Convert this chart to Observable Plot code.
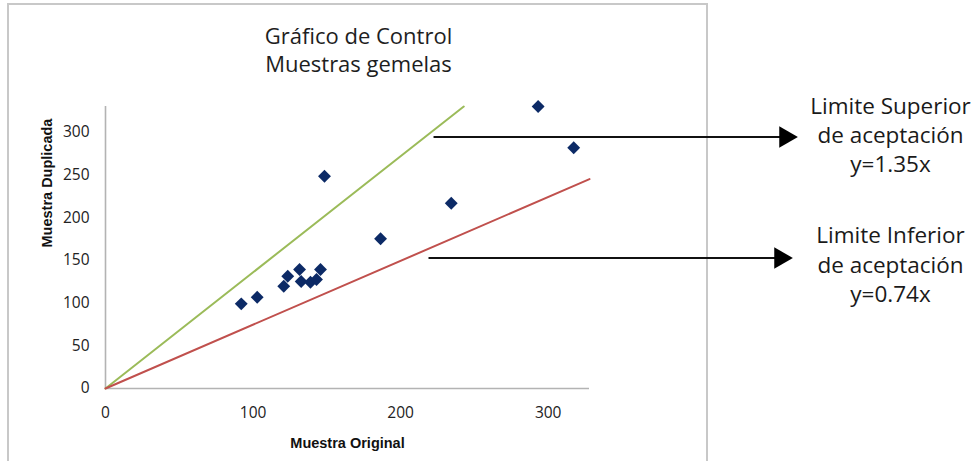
<!DOCTYPE html>
<html>
<head>
<meta charset="utf-8">
<script src="https://cdn.jsdelivr.net/npm/d3@7"></script>
<script src="https://cdn.jsdelivr.net/npm/@observablehq/plot@0.6"></script>
<style>
  html, body { margin: 0; padding: 0; background: #fff; overflow: hidden; }
  #wrap { position: relative; width: 974px; height: 461px; }
  #frame { position: absolute; left: 7px; top: 3px; width: 701px; height: 480px; border: 2px solid #c8c8c8; box-sizing: border-box; }
  #chart { position: absolute; left: 0; top: 0; }
</style>
</head>
<body>
<div id="wrap">
  <div id="frame"></div>
  <div id="chart"></div>
</div>
<script>
// Data
const muestraOriginal  = [92.0, 102.8, 120.8, 123.5, 131.5, 132.6, 138.9, 143.0, 145.7, 148.4, 186.4, 234.3, 293.2, 317.3];
const muestraDuplicada = [99.1, 106.8, 119.7, 131.4, 139.3, 125.2, 124.4, 127.6, 139.3, 248.4, 175.2, 216.8, 330.0, 281.7];

// Acceptance limit lines (end points)
const superiorX = [0, 242.8];
const superiorY = [0, 330];
const inferiorX = [0, 328];
const inferiorY = [0, 245];

// Tick labels
const xTicks = [0, 100, 200, 300];
const yTicks = [0, 50, 100, 150, 200, 250, 300];

// Titles
const chartTitle = "Gráfico de Control\nMuestras gemelas";
const xLabel = "Muestra Original";
const yLabel = "Muestra Duplicada";

// Annotation texts and arrow anchors (data units)
const annotLabels = ["Limite Superior\nde aceptación\ny=1.35x", "Limite Inferior\nde aceptación\ny=0.74x"];
const annotTextX = [532, 532];
const annotTextY = [298.1, 146.5];
const arrowStartX = [222.3, 218.9];
const arrowEndX = [460.8, 457.4];
const arrowY = [294.3, 152.7];

const points = muestraOriginal.map((x, i) => ({x, y: muestraDuplicada[i]}));
const sup = superiorX.map((x, i) => ({x, y: superiorY[i]}));
const inf = inferiorX.map((x, i) => ({x, y: inferiorY[i]}));
const annots = annotLabels.map((label, i) => ({
  label, tx: annotTextX[i], ty: annotTextY[i], x1: arrowStartX[i], x2: arrowEndX[i], y: arrowY[i]
}));

const chart = Plot.plot({
  width: 974,
  height: 461,
  marginLeft: 105,
  marginRight: 385,
  marginTop: 106,
  marginBottom: 73,
  x: {domain: [0, 328]},
  y: {domain: [0, 330]},
  style: {fontFamily: "'Open Sans', sans-serif", background: "transparent", color: "#222", overflow: "visible"},
  marks: [
    Plot.axisY({ticks: yTicks, tickSize: 0, tickPadding: 16, fontSize: 15.5, label: null}),
    Plot.axisX({ticks: xTicks, tickSize: 0, tickPadding: 18, fontSize: 15.5, label: null}),
    Plot.ruleX([0], {stroke: "#b3b3b3", strokeWidth: 1.6}),
    Plot.ruleY([0], {stroke: "#b3b3b3", strokeWidth: 1.6}),
    Plot.line(sup, {x: "x", y: "y", stroke: "#9bbb59", strokeWidth: 2}),
    Plot.line(inf, {x: "x", y: "y", stroke: "#c0504d", strokeWidth: 2}),
    Plot.dot(points, {x: "x", y: "y", symbol: "diamond2", r: 5.8, fill: "#0c2a66", stroke: "none"}),
    Plot.text([chartTitle], {frameAnchor: "top", lineAnchor: "top", dx: 11, dy: -83.3, fontSize: 22,
      lineHeight: 1.3, fill: "#1e1e1e"}),
    Plot.text([xLabel], {frameAnchor: "bottom", dy: 59, fontSize: 14.5, fontWeight: "bold",
      fontFamily: "'Liberation Sans', Arial, sans-serif", fill: "#111"}),
    Plot.text([yLabel], {frameAnchor: "left", dx: -58, rotate: -90, fontSize: 14.5, fontWeight: "bold",
      fontFamily: "'Liberation Sans', Arial, sans-serif", fill: "#111"}),
    Plot.link(annots, {x1: "x1", x2: "x2", y1: "y", y2: "y", stroke: "#111", strokeWidth: 2}),
    Plot.dot(annots, {x: "x2", y: "y", symbol: "triangle", r: 8, rotate: 90, fill: "#000", stroke: "none"}),
    Plot.text(annots, {x: "tx", y: "ty", text: "label", fontSize: 22.5, lineHeight: 1.3, fill: "#1a1a1a", textAnchor: "middle"})
  ]
});
document.getElementById("chart").appendChild(chart);
</script>
</body>
</html>
